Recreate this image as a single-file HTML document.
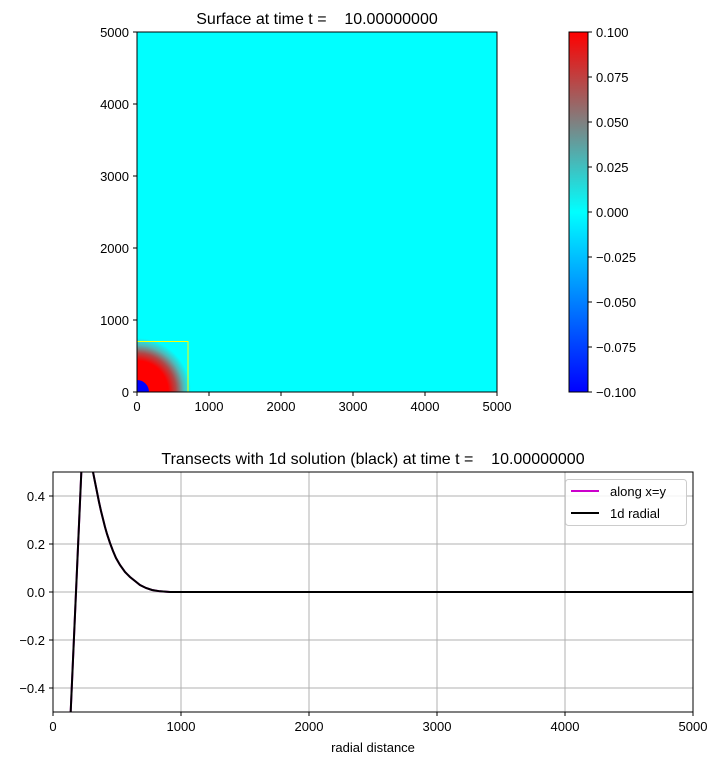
<!DOCTYPE html>
<html><head><style>body{margin:0;background:#fff}svg{display:block}text{font-family:"Liberation Sans","DejaVu Sans",sans-serif;fill:#000}</style></head><body>
<svg width="720" height="765" viewBox="0 0 720 765" xmlns="http://www.w3.org/2000/svg">
<defs>
<radialGradient id="rg" cx="137" cy="392" r="60" gradientUnits="userSpaceOnUse">
<stop offset="0" stop-color="#f00"/><stop offset="0.52" stop-color="#f00"/><stop offset="0.65" stop-color="#b04848"/><stop offset="0.78" stop-color="#50b8b8"/><stop offset="0.9" stop-color="#0ff"/><stop offset="1" stop-color="#0ff"/>
</radialGradient>
<linearGradient id="cb" x1="0" y1="1" x2="0" y2="0">
<stop offset="0" stop-color="#00f"/><stop offset="0.5" stop-color="#0ff"/><stop offset="0.75" stop-color="#808080"/><stop offset="1" stop-color="#f00"/>
</linearGradient>
<clipPath id="c1"><rect x="137" y="32" width="360" height="360"/></clipPath>
<clipPath id="c2"><rect x="53" y="472" width="640" height="240"/></clipPath>
</defs>
<text x="317" y="24" font-size="16" text-anchor="middle" xml:space="preserve">Surface at time t =    10.00000000</text>
<rect x="137" y="32" width="360" height="360" fill="#0ff"/>
<g clip-path="url(#c1)">
<circle cx="137" cy="392" r="60" fill="url(#rg)"/>
<circle cx="137" cy="392" r="12" fill="#00f"/>
<polyline points="137,341.5 188,341.5 188,392" fill="none" stroke="#ff0" stroke-width="1"/>
</g>
<rect x="137" y="32" width="360" height="360" fill="none" stroke="#000" stroke-width="1"/>
<g font-size="13" text-anchor="end">
<text x="129" y="397">0</text><text x="129" y="325">1000</text><text x="129" y="253">2000</text><text x="129" y="181">3000</text><text x="129" y="109">4000</text><text x="129" y="37">5000</text>
</g>
<g stroke="#000"><path d="M133 392h4M133 320h4M133 248h4M133 176h4M133 104h4M133 32h4M137 392v4M209 392v4M281 392v4M353 392v4M425 392v4M497 392v4"/></g>
<g font-size="13" text-anchor="middle">
<text x="137" y="411">0</text><text x="209" y="411">1000</text><text x="281" y="411">2000</text><text x="353" y="411">3000</text><text x="425" y="411">4000</text><text x="497" y="411">5000</text>
</g>
<rect x="569" y="32" width="19" height="360" fill="url(#cb)" stroke="#000" stroke-width="1"/>
<g stroke="#000"><path d="M588 32h4M588 77h4M588 122h4M588 167h4M588 212h4M588 257h4M588 302h4M588 347h4M588 392h4"/></g>
<g font-size="13">
<text x="596" y="37">0.100</text><text x="596" y="82">0.075</text><text x="596" y="127">0.050</text><text x="596" y="172">0.025</text><text x="596" y="217">0.000</text><text x="596" y="262">−0.025</text><text x="596" y="307">−0.050</text><text x="596" y="352">−0.075</text><text x="596" y="397">−0.100</text>
</g>
<text x="373" y="464" font-size="16" text-anchor="middle" xml:space="preserve">Transects with 1d solution (black) at time t =    10.00000000</text>
<g stroke="#b0b0b0" stroke-width="1">
<path d="M181 472v240M309 472v240M437 472v240M565 472v240M53 496h640M53 544h640M53 592h640M53 640h640M53 688h640"/>
</g>
<g clip-path="url(#c2)" fill="none" stroke-width="2">
<polyline stroke="#c0c" points="70.5,716 81.5,468 92.5,468 93,472 95,482 97,492 99,502 101,511 103,519 105,527 107,534 110,543 113,551 116,558 120,565 125,572 130,577 135,581 140,585 146,588 152,590 160,591.3 170,592 693,592"/>
<polyline stroke="#000" points="70.5,716 81.5,468 92.5,468 93,472 95,482 97,492 99,502 101,511 103,519 105,527 107,534 110,543 113,551 116,558 120,565 125,572 130,577 135,581 140,585 146,588 152,590 160,591.3 170,592 693,592"/>
</g>
<rect x="53" y="472" width="640" height="240" fill="none" stroke="#000" stroke-width="1"/>
<g stroke="#000"><path d="M49 496h4M49 544h4M49 592h4M49 640h4M49 688h4M53 712v4M181 712v4M309 712v4M437 712v4M565 712v4M693 712v4"/></g>
<g font-size="13" text-anchor="end">
<text x="45" y="501">0.4</text><text x="45" y="549">0.2</text><text x="45" y="597">0.0</text><text x="45" y="645">−0.2</text><text x="45" y="693">−0.4</text>
</g>
<g font-size="13" text-anchor="middle">
<text x="53" y="731">0</text><text x="181" y="731">1000</text><text x="309" y="731">2000</text><text x="437" y="731">3000</text><text x="565" y="731">4000</text><text x="693" y="731">5000</text>
<text x="373" y="752">radial distance</text>
</g>
<rect x="565.5" y="479.5" width="121" height="46" rx="3" fill="#fff" fill-opacity="0.85" stroke="#ccc"/>
<path d="M571 491h28" stroke="#c0c" stroke-width="2"/>
<path d="M571 513h28" stroke="#000" stroke-width="2"/>
<text x="610" y="496" font-size="13">along x=y</text>
<text x="610" y="518" font-size="13">1d radial</text>
</svg>
</body></html>
